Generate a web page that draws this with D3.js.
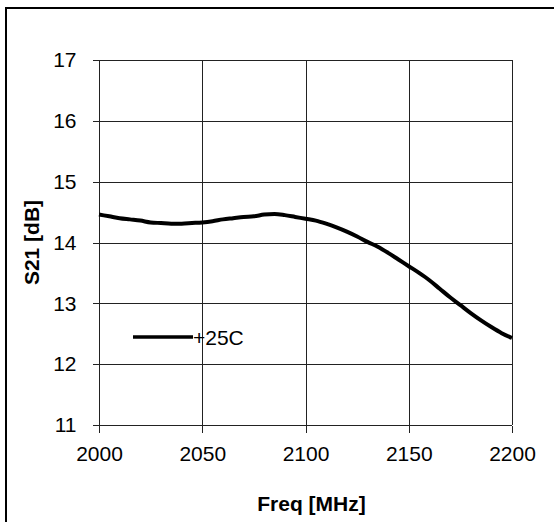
<!DOCTYPE html>
<html>
<head>
<meta charset="utf-8">
<script src="https://cdn.jsdelivr.net/npm/d3@7"></script>
<style>
  html, body { margin: 0; padding: 0; background: #fff; }
  svg { display: block; font-family: Arial, "Liberation Sans", sans-serif; }
</style>
</head>
<body>
<svg id="chart" width="554" height="522"></svg>
<script>
// S21 gain sweep at +25C
const freqMHz = [2000, 2005, 2010, 2015, 2020, 2025, 2030, 2035, 2040, 2045,
                 2050, 2055, 2060, 2065, 2070, 2075, 2080, 2085, 2090, 2095,
                 2100, 2105, 2110, 2115, 2120, 2125, 2130, 2135, 2140, 2145,
                 2150, 2155, 2160, 2165, 2170, 2175, 2180, 2185, 2190, 2195, 2200];
const s21dB = [14.46, 14.43, 14.40, 14.38, 14.36, 14.33, 14.32, 14.31, 14.31, 14.32,
               14.33, 14.35, 14.38, 14.40, 14.42, 14.43, 14.46, 14.47, 14.45, 14.42,
               14.39, 14.36, 14.31, 14.25, 14.18, 14.10, 14.01, 13.93, 13.83, 13.72,
               13.61, 13.50, 13.38, 13.24, 13.10, 12.97, 12.84, 12.72, 12.61, 12.51, 12.43];
const xTicks = [2000, 2050, 2100, 2150, 2200];
const yTicks = [11, 12, 13, 14, 15, 16, 17];
const seriesName = "+25C";
const xTitle = "Freq [MHz]";
const yTitle = "S21 [dB]";

const svg = d3.select("#chart");
const plot = { left: 99, right: 512, top: 60, bottom: 425 };

const x = d3.scaleLinear().domain([2000, 2200]).range([plot.left, plot.right]);
const y = d3.scaleLinear().domain([11, 17]).range([plot.bottom, plot.top]);

// outer frame (open on the right and bottom)
svg.append("rect")
  .attr("x", 6).attr("y", 8)
  .attr("width", 600).attr("height", 600)
  .attr("fill", "none").attr("stroke", "#000").attr("stroke-width", 2);

// gridlines
const grid = svg.append("g").attr("stroke", "#222").attr("stroke-width", 1).attr("shape-rendering", "crispEdges");
grid.selectAll("line.h").data(yTicks).join("line")
  .attr("x1", plot.left).attr("x2", plot.right)
  .attr("y1", d => Math.round(y(d)) + 0.5).attr("y2", d => Math.round(y(d)) + 0.5);
grid.selectAll("line.v").data(xTicks).join("line")
  .attr("y1", plot.top).attr("y2", plot.bottom)
  .attr("x1", d => Math.round(x(d)) + 0.5).attr("x2", d => Math.round(x(d)) + 0.5);

// axes
const yAxis = d3.axisLeft(y).tickValues(yTicks).tickFormat(d3.format("d")).tickSize(7).tickPadding(16);
const xAxis = d3.axisBottom(x).tickValues(xTicks).tickFormat(d3.format("d")).tickSize(7).tickPadding(14);

const gy = svg.append("g").attr("transform", `translate(${plot.left + 0.5},0)`).call(yAxis);
const gx = svg.append("g").attr("transform", `translate(0,${plot.bottom + 0.5})`).call(xAxis);
[gx, gy].forEach(g => {
  g.select(".domain").remove();
  g.selectAll(".tick line").attr("stroke", "#222").attr("shape-rendering", "crispEdges");
  g.selectAll(".tick text").attr("fill", "#000").attr("font-size", 21)
    .attr("font-family", "Arial, 'Liberation Sans', sans-serif");
});

// data line
const line = d3.line().x((d, i) => x(freqMHz[i])).y(d => y(d)).curve(d3.curveMonotoneX);
svg.append("path")
  .datum(s21dB)
  .attr("d", line)
  .attr("fill", "none").attr("stroke", "#000").attr("stroke-width", 4)
  .attr("stroke-linejoin", "round");

// legend
const lg = svg.append("g");
lg.append("line").attr("x1", 133).attr("x2", 193).attr("y1", 337).attr("y2", 337)
  .attr("stroke", "#000").attr("stroke-width", 3.5);
lg.append("text").attr("x", 193).attr("y", 344.5).attr("font-size", 21).text(seriesName);

// axis titles
svg.append("text")
  .attr("x", (plot.left + plot.right) / 2 + 6).attr("y", 511)
  .attr("text-anchor", "middle").attr("font-size", 21).attr("font-weight", "bold")
  .text(xTitle);
svg.append("text")
  .attr("transform", `translate(39,${(plot.top + plot.bottom) / 2}) rotate(-90)`)
  .attr("text-anchor", "middle").attr("font-size", 21).attr("font-weight", "bold")
  .text(yTitle);
</script>
</body>
</html>
